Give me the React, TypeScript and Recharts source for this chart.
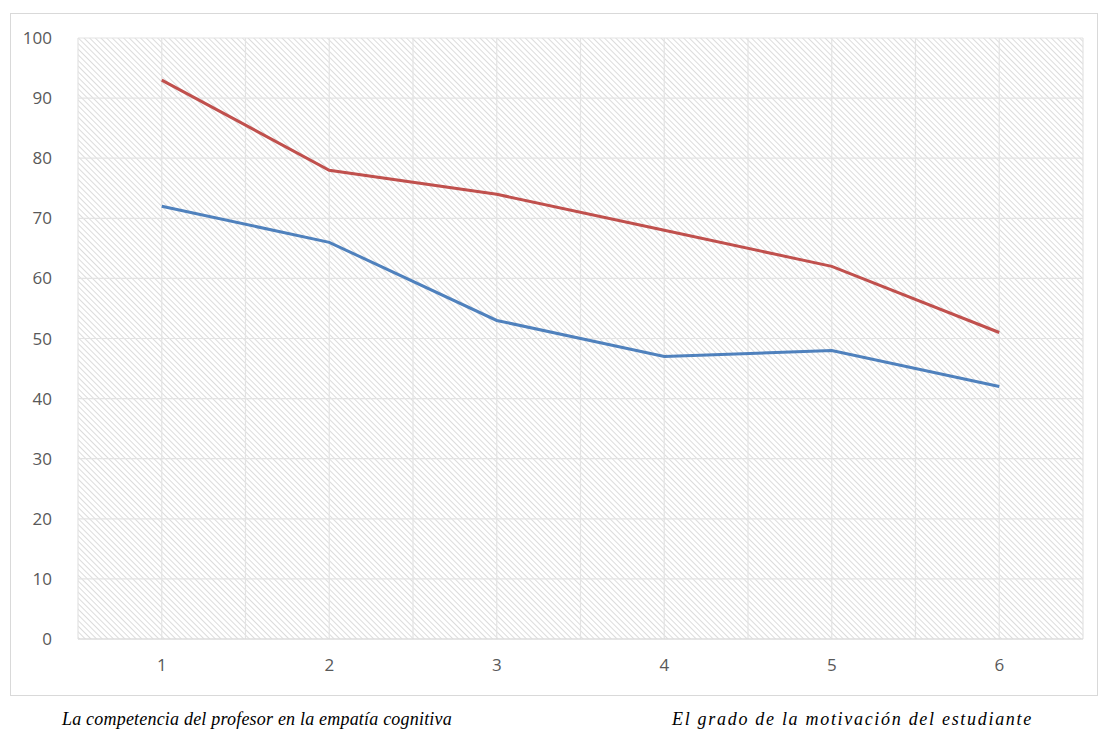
import { LineChart, Line, XAxis, YAxis, CartesianGrid } from 'recharts';

const categories = ['1', '2', '3', '4', '5', '6'];
const empatiaValues = [93, 78, 74, 68, 62, 51];
const motivacionValues = [72, 66, 53, 47, 48, 42];
const yTicks = [0, 10, 20, 30, 40, 50, 60, 70, 80, 90, 100];
const seriesNames = [
  'La competencia del profesor en la empatía cognitiva',
  'El grado de la motivación del estudiante',
];

const data = categories.map((c, i) => ({
  cat: c,
  empatia: empatiaValues[i],
  motivacion: motivacionValues[i],
}));

const W = 1099;
const H = 733;
const plotWidth = 1005;
const halfBand = plotWidth / categories.length / 2;

const tickStyle = { fill: '#595959', fontSize: 17, fontFamily: '"Open Sans", sans-serif' };

// caption placement under the chart
const captions = [
  { left: 62, letterSpacing: 0.2 },
  { left: 672, letterSpacing: 1.7 },
];

export default function App() {
  return (
    <div style={{ position: 'absolute', left: 0, top: 0, width: W, height: H, background: '#fff' }}>
      <svg width="0" height="0" style={{ position: 'absolute' }}>
        <defs>
          <pattern id="hatch" width="4" height="4" patternUnits="userSpaceOnUse" patternTransform="rotate(-45)">
            <rect width="4" height="4" fill="#ffffff" />
            <line x1="0" y1="0" x2="0" y2="4" stroke="#d4d4d4" strokeWidth="1.6" />
          </pattern>
        </defs>
      </svg>
      <div
        style={{
          position: 'absolute',
          left: 10,
          top: 13,
          width: 1086,
          height: 681,
          border: '1px solid #d9d9d9',
        }}
      />
      <div style={{ position: 'absolute', left: 0, top: 0 }}>
        <LineChart width={W} height={H} data={data} margin={{ top: 38, right: 16, left: 18, bottom: 54 }}>
          <CartesianGrid
            fill="url(#hatch)"
            stroke="#e3e3e3"
            strokeWidth={1.2}
            verticalCoordinatesGenerator={({ offset }: any) =>
              Array.from({ length: 13 }, (_, k) => offset.left + (offset.width / 12) * k)
            }
          />
          <XAxis
            dataKey="cat"
            height={40}
            padding={{ left: halfBand, right: halfBand }}
            axisLine={{ stroke: '#d9d9d9' }}
            tickLine={false}
            tick={tickStyle}
            tickMargin={14}
          />
          <YAxis
            width={60}
            domain={[0, 100]}
            ticks={yTicks}
            axisLine={false}
            tickLine={false}
            tick={tickStyle}
            tickMargin={20}
          />
          <Line
            dataKey="empatia"
            name={seriesNames[0]}
            stroke="#C0504D"
            strokeWidth={3}
            dot={false}
            isAnimationActive={false}
          />
          <Line
            dataKey="motivacion"
            name={seriesNames[1]}
            stroke="#4F81BD"
            strokeWidth={3}
            dot={false}
            isAnimationActive={false}
          />
        </LineChart>
      </div>
      {seriesNames.map((n, i) => (
        <div
          key={n}
          style={{
            position: 'absolute',
            top: 709,
            left: captions[i].left,
            letterSpacing: captions[i].letterSpacing,
            fontFamily: '"Liberation Serif", "Times New Roman", serif',
            fontStyle: 'italic',
            fontSize: 18,
            color: '#000',
            whiteSpace: 'nowrap',
          }}
        >
          {n}
        </div>
      ))}
    </div>
  );
}
